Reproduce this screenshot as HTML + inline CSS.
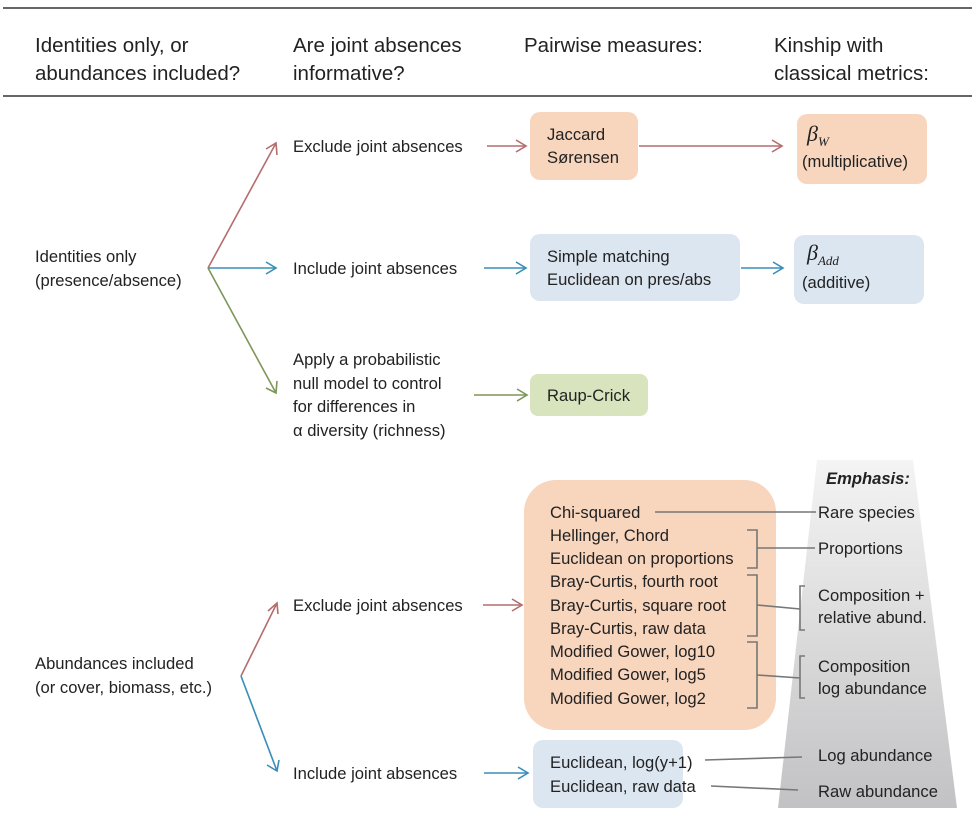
<!DOCTYPE html>
<html><head><meta charset="utf-8"><style>
html,body{margin:0;padding:0;background:#fff;}
svg{display:block;font-family:"Liberation Sans",sans-serif;}
text{fill:#222;font-size:16.6px;}
.h{font-size:20.5px;}
</style></head><body>
<svg width="978" height="817" viewBox="0 0 978 817" xmlns="http://www.w3.org/2000/svg">
<defs>
<linearGradient id="g" x1="0" y1="0" x2="0" y2="1">
<stop offset="0" stop-color="#f4f4f4"/><stop offset="1" stop-color="#c2c2c4"/>
</linearGradient>
</defs>
<line x1="3" y1="8" x2="972" y2="8" stroke="#333" stroke-width="1.5"/>
<line x1="3" y1="96" x2="972" y2="96" stroke="#333" stroke-width="1.5"/>
<text class="h" x="35" y="52">Identities only, or</text>
<text class="h" x="35" y="80">abundances included?</text>
<text class="h" x="293" y="52">Are joint absences</text>
<text class="h" x="293" y="80">informative?</text>
<text class="h" x="524" y="52">Pairwise measures:</text>
<text class="h" x="774" y="52">Kinship with</text>
<text class="h" x="774" y="80">classical metrics:</text>

<polygon points="817,460 913,460 957,808 778,808" fill="url(#g)"/>

<rect x="530" y="112" width="108" height="68" rx="10" fill="#f8d5bd"/>
<rect x="797" y="114" width="130" height="70" rx="10" fill="#f8d5bd"/>
<rect x="530" y="234" width="210" height="67" rx="10" fill="#dce6f1"/>
<rect x="794" y="235" width="130" height="69" rx="10" fill="#dce6f1"/>
<rect x="530" y="374" width="118" height="42" rx="8" fill="#d7e4bd"/>
<rect x="524" y="480" width="252" height="250" rx="32" fill="#f8d5bd"/>
<rect x="533" y="740" width="150" height="68" rx="10" fill="#dce6f1"/>

<g fill="none" stroke-width="1.6">
<g stroke="#b56d6d">
<path d="M208,268 L276,143"/><path d="M266,149 L276,143 L277,155"/>
<path d="M487,146 L526,146"/><path d="M516,140 L526,146 L516,152"/>
<path d="M639,146 L782,146"/><path d="M772,140 L782,146 L772,152"/>
<path d="M241,676 L277,603"/><path d="M268,611 L277,603 L278,614"/>
<path d="M483,605 L522,605"/><path d="M512,599 L522,605 L512,611"/>
</g>
<g stroke="#3a8db8">
<path d="M208,268 L276,268"/><path d="M266,262 L276,268 L266,274"/>
<path d="M484,268 L526,268"/><path d="M516,262 L526,268 L516,274"/>
<path d="M741,268 L783,268"/><path d="M773,262 L783,268 L773,274"/>
<path d="M241,676 L277,771"/><path d="M267,765 L277,771 L279,760"/>
<path d="M484,773 L528,773"/><path d="M518,767 L528,773 L518,779"/>
</g>
<g stroke="#7e9659">
<path d="M208,268 L276,393"/><path d="M266,388 L276,393 L277,381"/>
<path d="M474,395 L527,395"/><path d="M517,389 L527,395 L517,401"/>
</g>
</g>

<g fill="none" stroke="#777" stroke-width="1.6">
<path d="M655,512 L816,512"/>
<path d="M747,530 L757,530 L757,568 L747,568"/><path d="M757,548 L815,548"/>
<path d="M747,575 L757,575 L757,636 L747,636"/><path d="M757,605 L800,609"/>
<path d="M805,586 L800,586 L800,630 L805,630"/>
<path d="M747,642 L757,642 L757,708 L747,708"/><path d="M757,675 L800,678"/>
<path d="M805,656 L800,656 L800,698 L805,698"/>
<path d="M705,760 L802,757"/>
<path d="M711,786 L798,790"/>
</g>

<text x="35" y="262">Identities only</text>
<text x="35" y="286">(presence/absence)</text>
<text x="35" y="669">Abundances included</text>
<text x="35" y="693">(or cover, biomass, etc.)</text>
<text x="293" y="152">Exclude joint absences</text>
<text x="293" y="274">Include joint absences</text>
<text x="293" y="365">Apply a probabilistic</text>
<text x="293" y="389">null model to control</text>
<text x="293" y="412">for differences in</text>
<text x="293" y="436">α diversity (richness)</text>
<text x="293" y="611">Exclude joint absences</text>
<text x="293" y="779">Include joint absences</text>

<text x="547" y="140">Jaccard</text>
<text x="547" y="163">Sørensen</text>
<text x="547" y="262">Simple matching</text>
<text x="547" y="285">Euclidean on pres/abs</text>
<text x="547" y="401">Raup-Crick</text>
<text x="807" y="141" style="font-family:'Liberation Serif',serif;font-style:italic;font-size:22px">β<tspan dy="5" style="font-size:13px">W</tspan></text>
<text x="802" y="167">(multiplicative)</text>
<text x="807" y="260" style="font-family:'Liberation Serif',serif;font-style:italic;font-size:22px">β<tspan dy="5" style="font-size:13px">Add</tspan></text>
<text x="802" y="288">(additive)</text>

<text x="550" y="518">Chi-squared</text>
<text x="550" y="541">Hellinger, Chord</text>
<text x="550" y="564">Euclidean on proportions</text>
<text x="550" y="587">Bray-Curtis, fourth root</text>
<text x="550" y="611">Bray-Curtis, square root</text>
<text x="550" y="634">Bray-Curtis, raw data</text>
<text x="550" y="657">Modified Gower, log10</text>
<text x="550" y="680">Modified Gower, log5</text>
<text x="550" y="704">Modified Gower, log2</text>
<text x="550" y="768">Euclidean, log(y+1)</text>
<text x="550" y="792">Euclidean, raw data</text>

<text x="826" y="484" style="font-weight:bold;font-style:italic">Emphasis:</text>
<text x="818" y="518">Rare species</text>
<text x="818" y="554">Proportions</text>
<text x="818" y="601">Composition +</text>
<text x="818" y="623">relative abund.</text>
<text x="818" y="672">Composition</text>
<text x="818" y="694">log abundance</text>
<text x="818" y="761">Log abundance</text>
<text x="818" y="797">Raw abundance</text>
</svg>
</body></html>
